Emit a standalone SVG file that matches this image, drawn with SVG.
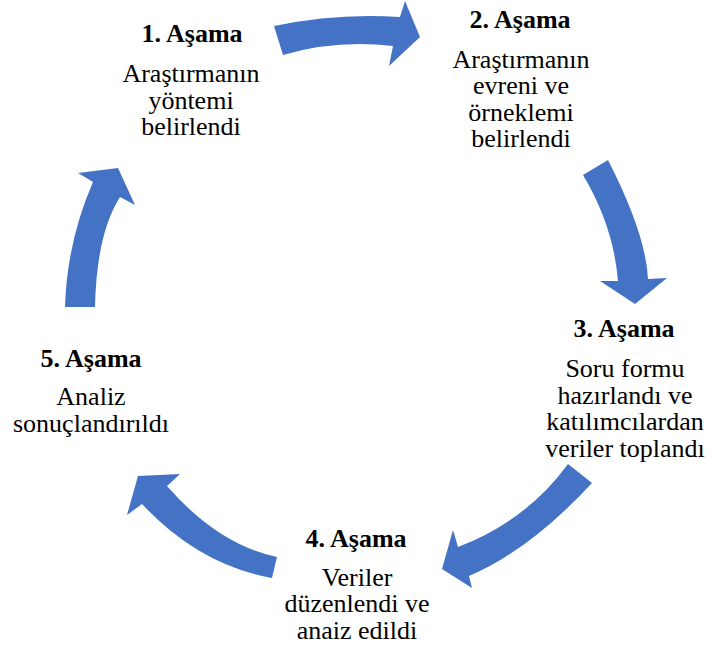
<svg xmlns="http://www.w3.org/2000/svg" width="712" height="653" viewBox="0 0 712 653">
<style>
.arr{fill:#4472C4;}
text{font-family:'Liberation Serif','DejaVu Serif',serif;font-size:26px;fill:#000;text-anchor:middle;}
.h{font-weight:bold;}
</style>
<rect width="712" height="653" fill="#fff"/>
<g id="connectors">
<path class="arr" d="M274,26 Q337,12.5 400,17 L405,1 L420,37 L389,66 L393,46 Q336,39.5 283,55 Z"/>
<path class="arr" d="M608,160 Q646,234.5 648,279 L667,278 L635,304 L600,281 L618,281 Q613.5,226 583,175 Z"/>
<path class="arr" d="M592,483 Q529.5,550.5 469,576 L472,588 L442,569 L453,530 L458,547 Q527,520.5 568,464 Z"/>
<path class="arr" d="M272,578 Q199,565 142,504 L127,515 L138,476 L180,474 L167,486 Q218,544.5 277,557 Z"/>
<path class="arr" d="M65,307 Q67,241.5 93,182 L78,173 L118,168 L135,205 L120,197 Q96.5,234 95,307 Z"/>
</g>
<g id="node1" font-family="Liberation Serif, serif">
<text class="h" x="192" y="42">1. Aşama</text>
<text x="191" y="82">Araştırmanın</text>
<text x="191" y="108.5">yöntemi</text>
<text x="191" y="135">belirlendi</text>
</g>
<g id="node2">
<text class="h" x="520" y="27.5">2. Aşama</text>
<text x="521" y="68">Araştırmanın</text>
<text x="521" y="94">evreni ve</text>
<text x="521" y="120.5">örneklemi</text>
<text x="521" y="147">belirlendi</text>
</g>
<g id="node3">
<text class="h" x="624" y="337">3. Aşama</text>
<text x="625" y="377">Soru formu</text>
<text x="625" y="403.5">hazırlandı ve</text>
<text x="625" y="430">katılımcılardan</text>
<text x="625" y="456.5">veriler toplandı</text>
</g>
<g id="node4">
<text class="h" x="356" y="547">4. Aşama</text>
<text x="357" y="586">Veriler</text>
<text x="357" y="612">düzenlendi ve</text>
<text x="357" y="638.5">anaiz edildi</text>
</g>
<g id="node5">
<text class="h" x="91" y="367">5. Aşama</text>
<text x="91" y="405">Analiz</text>
<text x="91" y="431.5">sonuçlandırıldı</text>
</g>
</svg>
